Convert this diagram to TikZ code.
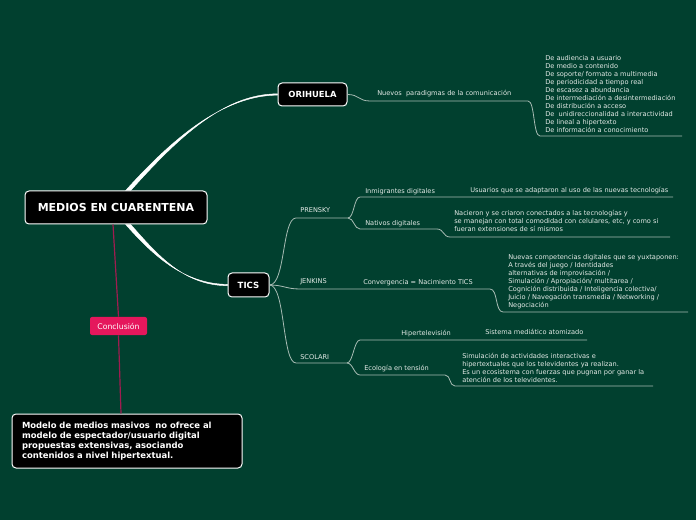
\documentclass[tikz,border=0pt]{standalone}
\usepackage{fontspec}
\setmainfont{DejaVu Sans}
\usetikzlibrary{calc}
\definecolor{bgcol}{HTML}{01402F}
\definecolor{leafcol}{HTML}{E4EAE7}
\definecolor{linecol}{HTML}{A8BCB4}
\definecolor{conccol}{HTML}{E5175C}
\definecolor{conline}{HTML}{A01C50}

\tikzset{
  topic/.style={draw=white, fill=black, line width=0.75pt, rounded corners=3pt,
    text=white, inner sep=0pt, align=center},
  leaf/.style={text=leafcol, font=\fontsize{4.95}{6}\selectfont, inner sep=0pt, anchor=base west},
  leafblock/.style={leaf, anchor=north west, align=left},
  uline/.style={draw=linecol, line width=0.6pt},
}

\begin{document}
\begin{tikzpicture}[x=0.75pt,y=0.75pt,yscale=-1,xscale=1]
\useasboundingbox (0,0) rectangle (696,520);
\fill[bgcol] (0,0) rectangle (696,520);

% Central and main topics
\node[topic, minimum width=136.5pt, minimum height=24.75pt, font=\fontsize{8.25}{10}\selectfont\bfseries] (medios) at (116,207.5) {MEDIOS EN CUARENTENA};
\node[topic, minimum width=51.75pt, minimum height=17.25pt, font=\fontsize{6.3}{8}\selectfont\bfseries] (orihuela) at (312.5,94.5) {ORIHUELA};
\node[topic, minimum width=30.75pt, minimum height=18pt, font=\fontsize{6.4}{8}\selectfont\bfseries] (tics) at (248.5,285) {TICS};
\node[topic, minimum width=172.5pt, minimum height=40.5pt, text width=157.5pt, align=left, font=\fontsize{6.33}{7.5}\selectfont\bfseries] (modelo) at (127,441) {Modelo de medios masivos\ \ no ofrece al\\modelo de espectador/usuario digital\\propuestas extensivas, asociando\\contenidos a nivel hipertextual.};

% Main links (tapered)
\fill[white, draw=white, line width=0.3pt] ([xshift=7.25pt]medios.north) .. controls +(45,-50) and +(-55,0) .. ([yshift=0.5pt]orihuela.west)
  -- ([yshift=-0.5pt]orihuela.west) .. controls +(-55,0) and +(45,-50) .. ([xshift=11pt]medios.north) -- cycle;
\fill[white, draw=white, line width=0.3pt] ([xshift=7.25pt]medios.south) .. controls +(25,28) and +(-45,0) .. ([yshift=-0.5pt]tics.west)
  -- ([yshift=0.5pt]tics.west) .. controls +(-45,0) and +(25,28) .. ([xshift=11pt]medios.south) -- cycle;

% Conclusion
\node[fill=conccol, rounded corners=1.5pt, minimum width=42.75pt, minimum height=13.5pt, inner sep=0pt,
  text=white, font=\fontsize{5.8}{7}\selectfont] (concl) at (118.5,326) {Conclusión};
\draw[conline, line width=0.9pt] ([xshift=-2.25pt]medios.south) -- (concl.north);
\draw[conline, line width=0.9pt] (concl.south) -- ([xshift=-4.5pt]modelo.north);

% ORIHUELA branch
\coordinate (ori-a) at (370,101);
\coordinate (ori-b) at (528,101);
\coordinate (ori-c) at (540,136);
\coordinate (ori-d) at (682,136);
\draw[uline] (orihuela.east) .. controls +(12,0) and +(-12,0) .. (ori-a) -- (ori-b)
  .. controls +(7,0) and +(-7,0) .. (ori-c) -- (ori-d);
\node[leaf] (nuevos) at (377,96) {Nuevos\ \ paradigmas de la comunicación};
\node[leafblock] (orilist) at (545,55) {De audiencia a usuario\\De medio a contenido\\De soporte/ formato a multimedia\\De periodicidad a tiempo real\\De escasez a abundancia\\De intermediación a desintermediación\\De distribución a acceso\\De\ \ unidireccionalidad a interactividad\\De lineal a hipertexto\\De información a conocimiento};

% TICS branch: PRENSKY
\coordinate (pre-a) at (296,218);
\coordinate (pre-b) at (348,218);
\coordinate (inm-a) at (360,197);
\coordinate (inm-b) at (673,197);
\coordinate (nat-a) at (360,229);
\coordinate (nat-b) at (437,229);
\coordinate (nat-c) at (450,237);
\coordinate (nat-d) at (670,237);
\draw[uline] (tics.east) .. controls +(16,0) and +(-14,0) .. (pre-a) -- (pre-b);
\draw[uline] (pre-b) .. controls +(6,0) and +(-6,0) .. (inm-a) -- (inm-b);
\draw[uline] (pre-b) .. controls +(6,0) and +(-6,0) .. (nat-a) -- (nat-b)
  .. controls +(7,0) and +(-7,0) .. (nat-c) -- (nat-d);
\node[leaf] (prensky) at (300,212.5) {PRENSKY};
\node[leaf] (inmig) at (365,193.5) {Inmigrantes digitales};
\node[leaf] (usuarios) at (470,192.5) {Usuarios que se adaptaron al uso de las nuevas tecnologías};
\node[leaf] (nativos) at (365,225.5) {Nativos digitales};
\node[leafblock] (natlist) at (454,210) {Nacieron y se criaron conectados a las tecnologías y\\se manejan con total comodidad con celulares, etc, y como si\\fueran extensiones de sí mismos};

% TICS branch: JENKINS
\coordinate (jen-a) at (300,289);
\coordinate (jen-b) at (490,289);
\coordinate (jen-c) at (503,312);
\coordinate (jen-d) at (688,312);
\draw[uline] (tics.east) .. controls +(14,0) and +(-14,0) .. (jen-a) -- (jen-b)
  .. controls +(8,0) and +(-8,0) .. (jen-c) -- (jen-d);
\node[leaf] (jenkins) at (300,283.5) {JENKINS};
\node[leaf] (converg) at (363,284.5) {Convergencia = Nacimiento TICS};
\node[leafblock] (jenlist) at (508,254) {Nuevas competencias digitales que se yuxtaponen:\\A través del juego / Identidades\\alternativas de improvisación /\\Simulación / Apropiación/ multitarea /\\Cognición distribuida / Inteligencia colectiva/\\Juicio / Navegación transmedia / Networking /\\Negociación};

% TICS branch: SCOLARI
\coordinate (sco-a) at (296,363);
\coordinate (sco-b) at (347,363);
\coordinate (hip-a) at (360,340);
\coordinate (hip-b) at (587,340);
\coordinate (eco-a) at (360,375);
\coordinate (eco-b) at (445,375);
\coordinate (eco-c) at (455,386);
\coordinate (eco-d) at (653,386);
\draw[uline] (tics.east) .. controls +(16,0) and +(-14,0) .. (sco-a) -- (sco-b);
\draw[uline] (sco-b) .. controls +(6,0) and +(-6,0) .. (hip-a) -- (hip-b);
\draw[uline] (sco-b) .. controls +(6,0) and +(-6,0) .. (eco-a) -- (eco-b)
  .. controls +(6,0) and +(-6,0) .. (eco-c) -- (eco-d);
\node[leaf] (scolari) at (300,359.5) {SCOLARI};
\node[leaf] (hipertv) at (401,335.5) {Hipertelevisión};
\node[leaf] (sistema) at (485,334.5) {Sistema mediático atomizado};
\node[leaf] (ecologia) at (364,370.5) {Ecología en tensión};
\node[leafblock] (ecolist) at (462,353) {Simulación de actividades interactivas e\\hipertextuales que los televidentes ya realizan.\\Es un ecosistema con fuerzas que pugnan por ganar la\\atención de los televidentes.};

\end{tikzpicture}
\end{document}
